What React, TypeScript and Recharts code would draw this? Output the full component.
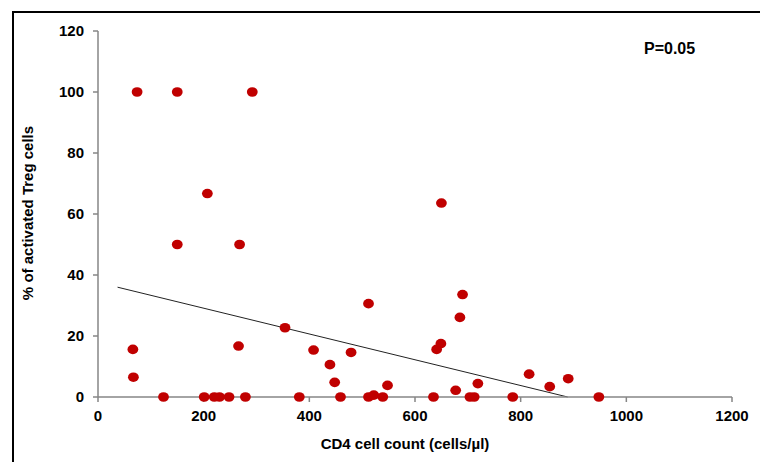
import React from 'react';
import { ScatterChart, Scatter, XAxis, YAxis, ReferenceLine } from 'recharts';

// CD4 cell count (cells/µl) for each patient
const cd4Counts = [
  74, 150, 292, 207, 650, 150, 268, 690, 512, 685, 354, 649, 266, 66, 641, 408, 479, 439,
  816, 67, 890, 448, 719, 548, 855, 677, 522,
  124, 201, 220, 230, 248, 279, 381, 459, 512, 539, 635, 704, 712, 785, 948,
];
// % of activated Treg cells for each patient
const tregPercents = [
  100, 100, 100, 66.7, 63.6, 50, 50, 33.6, 30.6, 26.1, 22.7, 17.5, 16.7, 15.6, 15.6, 15.4, 14.6, 10.6,
  7.5, 6.5, 6.0, 4.8, 4.4, 3.8, 3.4, 2.2, 0.6,
  0, 0, 0, 0, 0, 0, 0, 0, 0, 0, 0, 0, 0, 0, 0,
];
// Linear trend line end points
const trendX = [37, 889];
const trendY = [36, 0];

const xTicks = [0, 200, 400, 600, 800, 1000, 1200];
const yTicks = [0, 20, 40, 60, 80, 100, 120];

const points = cd4Counts.map((x, i) => ({ x, y: tregPercents[i] }));

const FONT = '"Liberation Sans", Arial, sans-serif';
const AXIS_GREY = '#868686';
const DOT_RED = '#C00000';

const Dot = (props: any) => {
  const { cx, cy } = props;
  if (cx == null || cy == null) return null;
  return <ellipse cx={cx} cy={cy} rx={5.4} ry={4.8} fill={DOT_RED} />;
};

const tickStyle = { fill: '#000', fontSize: 15, fontWeight: 700, fontFamily: FONT };

export default function App() {
  return (
    <>
      <div
        style={{
          position: 'absolute',
          left: 12,
          top: 11,
          width: 746,
          height: 449,
          borderLeft: '2px solid #000',
          borderTop: '2px solid #000',
        }}
      />
      <div style={{ position: 'absolute', left: 0, top: 0, width: 760, height: 462 }}>
        <ScatterChart width={760} height={462} margin={{ top: 31, right: 28, bottom: 35, left: 0 }}>
          <XAxis
            type="number"
            dataKey="x"
            domain={[0, 1200]}
            ticks={xTicks}
            interval={0}
            height={30}
            axisLine={{ stroke: AXIS_GREY, strokeWidth: 1.5 }}
            tickLine={{ stroke: AXIS_GREY, strokeWidth: 1.5 }}
            tickSize={5}
            tickMargin={8}
            tick={tickStyle}
          />
          <YAxis
            type="number"
            dataKey="y"
            domain={[0, 120]}
            ticks={yTicks}
            interval={0}
            width={98}
            axisLine={{ stroke: AXIS_GREY, strokeWidth: 1.5 }}
            tickLine={{ stroke: AXIS_GREY, strokeWidth: 1.5 }}
            tickSize={5}
            tickMargin={9}
            tick={tickStyle}
          />
          <ReferenceLine
            segment={[
              { x: trendX[0], y: trendY[0] },
              { x: trendX[1], y: trendY[1] },
            ]}
            stroke="#222"
            strokeWidth={1}
          />
          <Scatter data={points} shape={Dot} isAnimationActive={false} />
          <text
            x={27}
            y={213}
            transform="rotate(-90 27 213)"
            textAnchor="middle"
            dominantBaseline="central"
            style={{ fontFamily: FONT, fontSize: 15, fontWeight: 700, fill: '#000' }}
          >
            % of activated Treg cells
          </text>
          <text
            x={405}
            y={449}
            textAnchor="middle"
            style={{ fontFamily: FONT, fontSize: 15, fontWeight: 700, fill: '#000' }}
          >
            CD4 cell count (cells/µl)
          </text>
          <text
            x={644}
            y={54}
            textAnchor="start"
            style={{ fontFamily: FONT, fontSize: 16, fontWeight: 700, fill: '#000' }}
          >
            P=0.05
          </text>
        </ScatterChart>
      </div>
    </>
  );
}
